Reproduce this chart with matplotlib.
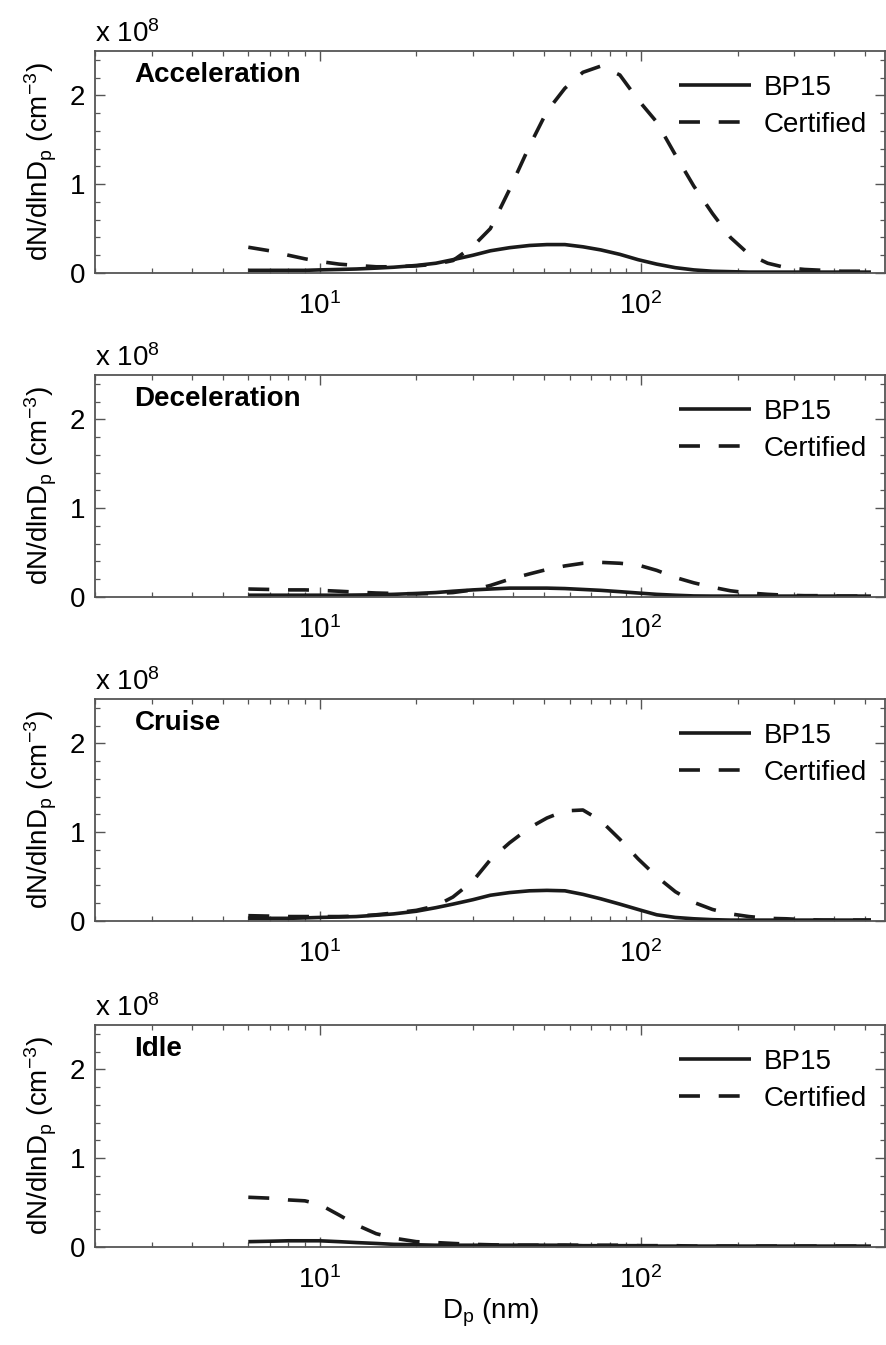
import numpy as np
import matplotlib
matplotlib.use('Agg')
import matplotlib.pyplot as plt
from matplotlib.ticker import FixedLocator, MultipleLocator, LogLocator, NullFormatter, FuncFormatter

plt.rcParams['font.family'] = 'Liberation Sans'
plt.rcParams['mathtext.fontset'] = 'custom'
plt.rcParams['mathtext.rm'] = 'Liberation Sans'
plt.rcParams['mathtext.it'] = 'Liberation Sans:italic'
plt.rcParams['mathtext.bf'] = 'Liberation Sans:bold'

# particle diameter bins (nm)
dp = [6.0, 7.0, 8.0, 9.0, 10, 11.5, 13, 15, 17, 20, 23, 26, 30, 34, 39, 45, 51, 58,
      66, 75, 86, 98, 112, 128, 146, 167, 190, 217, 248, 283, 323, 369, 420, 520]

# dN/dlnDp in units of 1e8 cm^-3
acc_bp15 = [0.03, 0.03, 0.03, 0.03, 0.035, 0.04, 0.045, 0.055, 0.065, 0.085, 0.11, 0.15,
            0.20, 0.25, 0.285, 0.31, 0.32, 0.32, 0.295, 0.26, 0.21, 0.15, 0.10, 0.06,
            0.035, 0.02, 0.015, 0.01, 0.01, 0.01, 0.01, 0.01, 0.01, 0.01]
acc_cert = [0.29, 0.25, 0.20, 0.16, 0.13, 0.10, 0.085, 0.07, 0.07, 0.08, 0.10, 0.14,
            0.30, 0.50, 0.94, 1.43, 1.82, 2.08, 2.26, 2.33, 2.23, 1.95, 1.70, 1.33,
            0.98, 0.67, 0.40, 0.21, 0.11, 0.06, 0.04, 0.03, 0.02, 0.02]

dec_bp15 = [0.02, 0.02, 0.02, 0.02, 0.02, 0.02, 0.022, 0.025, 0.03, 0.04, 0.05, 0.065,
            0.08, 0.09, 0.10, 0.10, 0.10, 0.095, 0.085, 0.075, 0.06, 0.045, 0.03, 0.02,
            0.012, 0.01, 0.01, 0.01, 0.01, 0.01, 0.01, 0.01, 0.01, 0.01]
dec_cert = [0.09, 0.085, 0.08, 0.08, 0.075, 0.065, 0.055, 0.045, 0.04, 0.035, 0.04, 0.05,
            0.08, 0.13, 0.20, 0.26, 0.31, 0.35, 0.38, 0.39, 0.38, 0.36, 0.30, 0.22,
            0.16, 0.11, 0.07, 0.045, 0.03, 0.02, 0.015, 0.015, 0.01, 0.01]

cru_bp15 = [0.03, 0.03, 0.03, 0.035, 0.04, 0.045, 0.05, 0.065, 0.08, 0.11, 0.15, 0.19,
            0.24, 0.29, 0.32, 0.34, 0.345, 0.34, 0.30, 0.25, 0.19, 0.13, 0.07, 0.04,
            0.025, 0.015, 0.01, 0.01, 0.01, 0.01, 0.01, 0.01, 0.01, 0.01]
cru_cert = [0.06, 0.055, 0.05, 0.05, 0.05, 0.05, 0.055, 0.07, 0.09, 0.12, 0.17, 0.27,
            0.45, 0.69, 0.88, 1.05, 1.16, 1.24, 1.25, 1.13, 0.92, 0.70, 0.50, 0.33,
            0.21, 0.13, 0.08, 0.05, 0.03, 0.025, 0.015, 0.01, 0.01, 0.01]

idl_bp15 = [0.06, 0.065, 0.07, 0.07, 0.07, 0.06, 0.05, 0.04, 0.03, 0.025, 0.02, 0.02,
            0.02, 0.02, 0.02, 0.02, 0.02, 0.02, 0.015, 0.015, 0.015, 0.015, 0.01, 0.01,
            0.01, 0.01, 0.01, 0.01, 0.01, 0.01, 0.01, 0.01, 0.01, 0.01]
idl_cert = [0.56, 0.55, 0.53, 0.52, 0.48, 0.36, 0.25, 0.15, 0.10, 0.06, 0.05, 0.04,
            0.03, 0.025, 0.02, 0.02, 0.02, 0.02, 0.02, 0.02, 0.02, 0.015, 0.015, 0.015,
            0.01, 0.01, 0.01, 0.01, 0.01, 0.01, 0.01, 0.01, 0.01, 0.01]

modes = ['Acceleration', 'Deceleration', 'Cruise', 'Idle']
bp15 = [acc_bp15, dec_bp15, cru_bp15, idl_bp15]
cert = [acc_cert, dec_cert, cru_cert, idl_cert]
scale = 1e8

W, H = 887, 1345
fig = plt.figure(figsize=(W / 100, H / 100), dpi=100)

left = 95 / W
width = (885 - 95) / W
bottoms_px = [273, 597, 921, 1247]
height = 222 / H

fs = 20
line_col = '#1a1a1a'
axis_col = '#555555'

axes = []
for i, mode in enumerate(modes):
    ax = fig.add_axes([left, 1 - bottoms_px[i] / H, width, height])
    x = np.array(dp)
    ax.plot(x, np.array(bp15[i]) * scale, color=line_col, lw=2.6, label='BP15',
            solid_capstyle='butt')
    ax.plot(x, np.array(cert[i]) * scale, color=line_col, lw=2.6, label='Certified',
            linestyle=(0, (5.8, 5.2)), dash_capstyle='butt')

    ax.set_xscale('log')
    ax.set_xlim(2, 575)
    ax.set_ylim(0, 2.5 * scale)

    ax.yaxis.set_major_locator(FixedLocator([0, 1 * scale, 2 * scale]))
    ax.yaxis.set_minor_locator(MultipleLocator(0.2 * scale))
    ax.yaxis.set_major_formatter(FuncFormatter(lambda v, p: f'{v / scale:.0f}'))
    ax.xaxis.set_major_locator(LogLocator(base=10, numticks=10))
    ax.xaxis.set_minor_locator(LogLocator(base=10, subs=np.arange(2, 10), numticks=10))
    ax.xaxis.set_minor_formatter(NullFormatter())

    ax.tick_params(which='both', direction='in', top=True, right=True,
                   color=axis_col, labelsize=fs)
    ax.tick_params(which='major', length=7, width=1.0)
    ax.tick_params(which='minor', length=3.5, width=0.9)
    ax.tick_params(axis='x', which='major', pad=14)
    ax.tick_params(axis='y', which='major', pad=7)
    for sp in ax.spines.values():
        sp.set_color(axis_col)
        sp.set_linewidth(1.3)

    ax.text(0.05, 0.89, mode, transform=ax.transAxes, fontsize=fs,
            fontweight='bold', va='center', ha='left')
    ax.text(0.0, 1.0 + 9 / 222, r'x 10$^{8}$', transform=ax.transAxes,
            fontsize=fs, ha='left', va='baseline')

    ax.set_ylabel(r'dN/dlnD$_\mathrm{p}$ (cm$^{-3}$)', fontsize=fs, va='center')
    ax.yaxis.set_label_coords(-0.068, 0.5)

    ax.legend(loc='upper right', bbox_to_anchor=(1.0, 1.0 - 6 / 222),
              frameon=False, fontsize=fs, handlelength=2.6,
              handletextpad=0.45, labelspacing=0.38, borderpad=0.35,
              borderaxespad=0.3)
    axes.append(ax)

axes[-1].set_xlabel(r'D$_\mathrm{p}$ (nm)', fontsize=fs, va='center')
axes[-1].xaxis.set_label_coords(0.5, -(1313 - 1247) / 222)

fig.savefig('out.png', dpi=100)
